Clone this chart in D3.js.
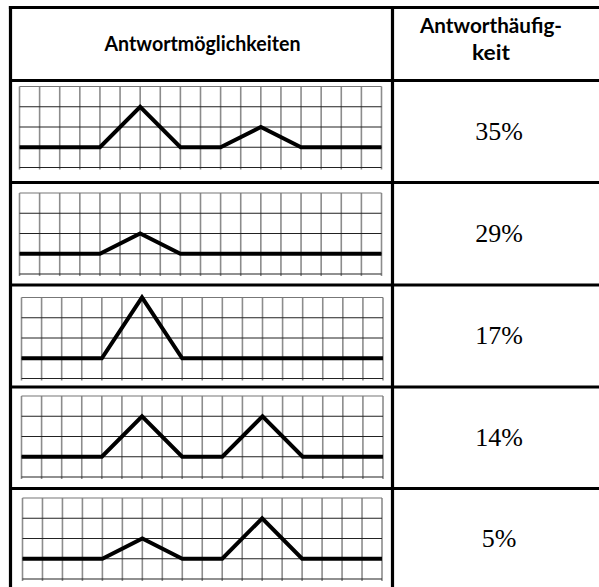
<!DOCTYPE html>
<html>
<head>
<meta charset="utf-8">
<script src="https://cdn.jsdelivr.net/npm/d3@7"></script>
<style>
  body { margin: 0; background: #fff; }
  svg { display: block; }
</style>
</head>
<body>
<div id="canvas"></div>
<script>
// answer options (line shapes in grid units: [column, height above baseline])
var optionA = [[0, 0], [4, 0], [6, 2], [8, 0], [10, 0], [12, 1], [14, 0], [18, 0]];
var optionB = [[0, 0], [4, 0], [6, 1], [8, 0], [18, 0]];
var optionC = [[0, 0], [4, 0], [6, 3], [8, 0], [18, 0]];
var optionD = [[0, 0], [4, 0], [6, 2], [8, 0], [10, 0], [12, 2], [14, 0], [18, 0]];
var optionE = [[0, 0], [4, 0], [6, 1], [8, 0], [10, 0], [12, 2], [14, 0], [18, 0]];
var options = [optionA, optionB, optionC, optionD, optionE];
var shares = [35, 29, 17, 14, 5];
var headers = ['Antwortmöglichkeiten', ['Antworthäufig-', 'keit']];

var width = 599, height = 587;
var tblLeft = 10.5, tblTop = 7.5, divider = 392.5, tblRight = 604;
var rowLines = [80.5, 182.5, 285, 387, 488.5, 590];
// where each pasted grid sits in its row
var gridBox = [
    {x0: 19.5, x1: 381.5, y0: 86.5},
    {x0: 19.5, x1: 381.5, y0: 193},
    {x0: 21.5, x1: 383, y0: 297.5},
    {x0: 21.5, x1: 383, y0: 396},
    {x0: 22.5, x1: 382, y0: 498}
];

var svg = d3.select('#canvas').append('svg')
    .attr('width', width)
    .attr('height', height);

// grids with the line shapes
options.forEach(function (pts, i) {
    var b = gridBox[i];
    var x = d3.scaleLinear().domain([0, 18]).range([b.x0, b.x1]);
    var y = d3.scaleLinear().domain([-1, 3]).range([b.y0 + 81, b.y0]);
    var g = svg.append('g').attr('class', 'option');

    g.selectAll('line.v')
        .data(d3.range(0, 19))
        .enter().append('line')
        .attr('class', 'v')
        .attr('x1', function (d) { return x(d); })
        .attr('x2', function (d) { return x(d); })
        .attr('y1', y(3))
        .attr('y2', y(-1) + 2)
        .attr('stroke', '#8c8c8c')
        .attr('stroke-width', 1.6);

    g.selectAll('line.h')
        .data(d3.range(-1, 4))
        .enter().append('line')
        .attr('class', 'h')
        .attr('x1', x(0))
        .attr('x2', x(18))
        .attr('y1', function (d) { return y(d); })
        .attr('y2', function (d) { return y(d); })
        .attr('stroke', function (d) { return d == 3 ? '#777' : '#222'; })
        .attr('stroke-width', 1.1);

    g.append('path')
        .datum(pts)
        .attr('d', d3.line().x(function (d) { return x(d[0]); }).y(function (d) { return y(d[1]); }))
        .attr('fill', 'none')
        .attr('stroke', '#000')
        .attr('stroke-width', 4)
        .attr('stroke-linejoin', 'miter');
});

// table rules
var border = svg.append('g').attr('stroke', '#000').attr('stroke-width', 3.2);
border.append('line').attr('x1', tblLeft - 1.6).attr('x2', tblRight).attr('y1', tblTop).attr('y2', tblTop);
border.selectAll('line.row')
    .data(rowLines)
    .enter().append('line')
    .attr('class', 'row')
    .attr('x1', tblLeft).attr('x2', tblRight)
    .attr('y1', function (d) { return d; })
    .attr('y2', function (d) { return d; });
border.append('line').attr('x1', tblLeft).attr('x2', tblLeft).attr('y1', tblTop - 1.6).attr('y2', height);
border.append('line').attr('x1', divider).attr('x2', divider).attr('y1', tblTop - 1.6).attr('y2', height);

// header texts
svg.append('text')
    .attr('x', (tblLeft + divider) / 2 + 1)
    .attr('y', 51)
    .attr('text-anchor', 'middle')
    .attr('textLength', 196)
    .attr('lengthAdjust', 'spacingAndGlyphs')
    .style('font-family', 'Lato, Open Sans, sans-serif')
    .style('font-weight', 'bold')
    .style('font-size', '20px')
    .text(headers[0]);

svg.selectAll('text.head2')
    .data(headers[1])
    .enter().append('text')
    .attr('class', 'head2')
    .attr('x', 491)
    .attr('y', function (d, i) { return 33 + i * 27; })
    .attr('text-anchor', 'middle')
    .attr('textLength', function (d, i) { return i == 0 ? 142 : 38; })
    .attr('lengthAdjust', 'spacingAndGlyphs')
    .style('font-family', 'Lato, Open Sans, sans-serif')
    .style('font-weight', 'bold')
    .style('font-size', '20px')
    .text(function (d) { return d; });

// percentages
svg.selectAll('text.share')
    .data(shares)
    .enter().append('text')
    .attr('class', 'share')
    .attr('x', 499)
    .attr('y', function (d, i) { return (rowLines[i] + rowLines[i + 1]) / 2 + 8; })
    .attr('text-anchor', 'middle')
    .style('font-family', 'Liberation Serif, Times New Roman, serif')
    .style('font-size', '26px')
    .text(function (d) { return d + '%'; });
</script>
</body>
</html>
